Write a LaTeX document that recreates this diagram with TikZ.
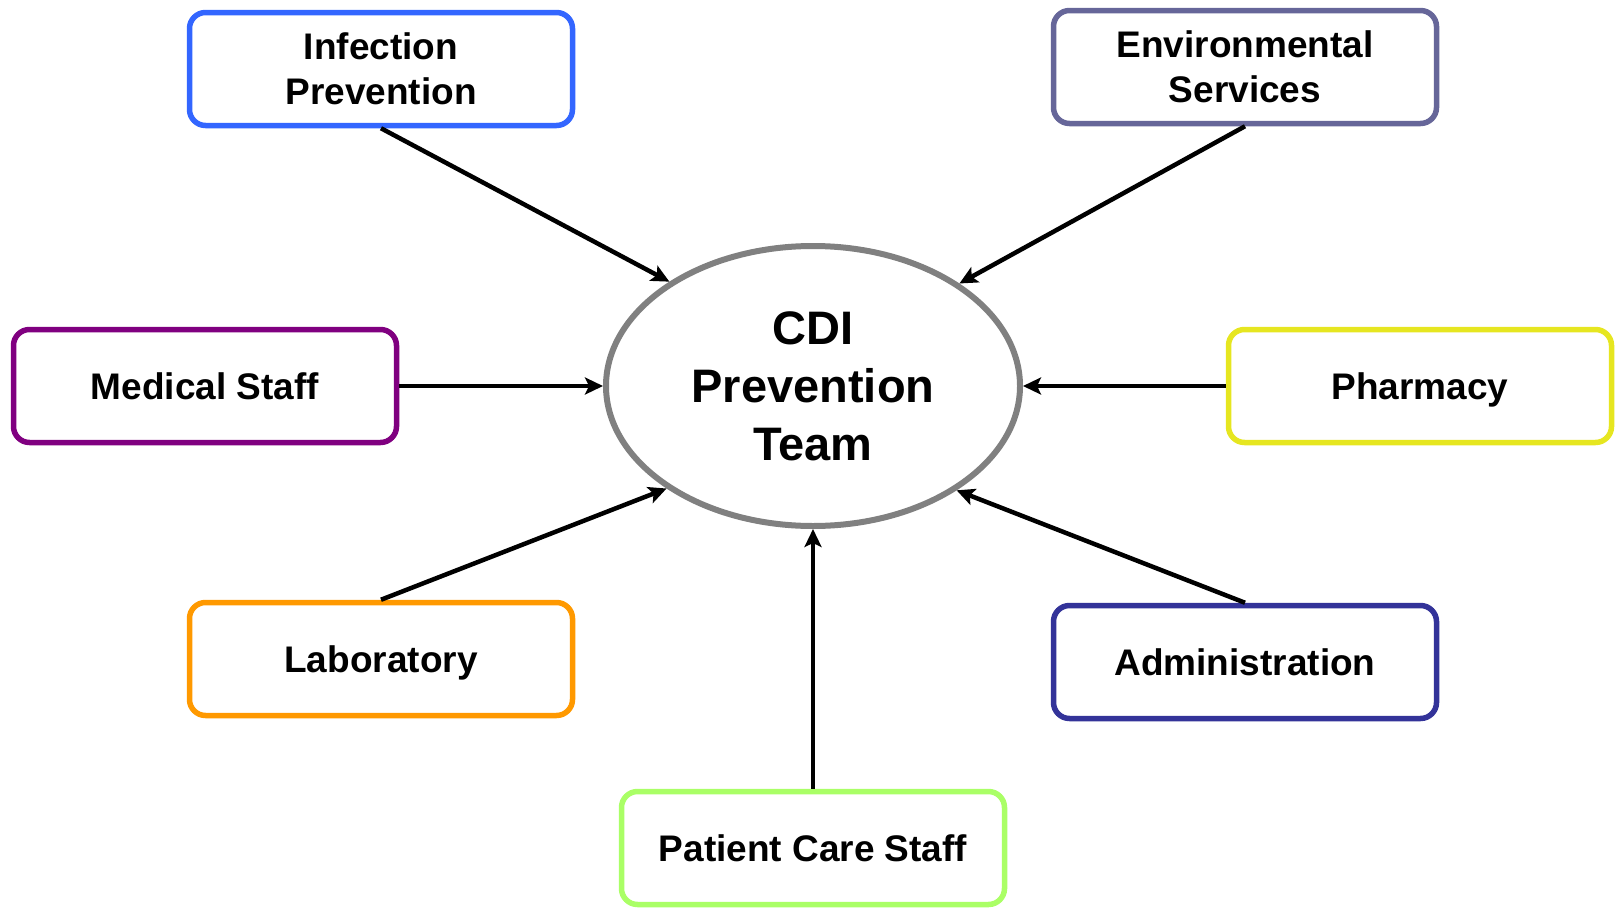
\documentclass[tikz,border=0pt]{standalone}
\usepackage{fontspec}
\setmainfont{Liberation Sans}
\usetikzlibrary{arrows.meta,shapes.geometric}
\definecolor{cInf}{HTML}{3366FF}
\definecolor{cEnv}{HTML}{666699}
\definecolor{cMed}{HTML}{800080}
\definecolor{cPha}{HTML}{E6E620}
\definecolor{cLab}{HTML}{FF9900}
\definecolor{cAdm}{HTML}{333399}
\definecolor{cPat}{HTML}{AAFF66}
\definecolor{cTeam}{HTML}{808080}
\tikzset{
  dept/.style={draw, line width=5.5pt, rounded corners=16pt, fill=white,
    minimum width=383pt, minimum height=113pt, align=center,
    font=\fontsize{37}{45}\selectfont\bfseries},
  oneline/.style={text height=26.5pt, text depth=0pt},
  hub/.style={ellipse, draw=cTeam, line width=6pt, fill=white,
    minimum width=414pt, minimum height=280pt, align=center,
    font=\fontsize{47}{58}\selectfont\bfseries},
  feed/.style={line width=4.5pt, -{Stealth[length=18pt,width=17pt,inset=4pt]}}
}
\begin{document}
\begin{tikzpicture}[x=1pt,y=-1pt]
\useasboundingbox (0,0) rectangle (1615,908);
% central team and the seven contributing departments
\node[hub] (team) at (813,386) {CDI\\Prevention\\Team};
\node[dept, draw=cInf] (inf) at (381,69) {Infection\\Prevention};
\node[dept, draw=cEnv] (env) at (1245,67) {Environmental\\Services};
\node[dept, oneline, draw=cMed] (med) at (205,386) {Medical Staff};
\node[dept, oneline, draw=cPha] (pha) at (1420,386) {Pharmacy};
\node[dept, oneline, draw=cLab] (lab) at (381,659) {Laboratory};
\node[dept, oneline, draw=cAdm] (adm) at (1245,662) {Administration};
\node[dept, oneline, draw=cPat] (pat) at (813,848) {Patient Care Staff};
% arrows into the team
\draw[feed] (inf.south) -- (team.144.6);
\draw[feed] (env.south) -- (team.35.2);
\draw[feed] (med.east) -- (team.west);
\draw[feed] (pha.west) -- (team.east);
\draw[feed] (lab.north) -- (team.215.4);
\draw[feed] (adm.north) -- (team.324.8);
\draw[feed] (pat.north) -- (team.south);
\end{tikzpicture}
\end{document}
